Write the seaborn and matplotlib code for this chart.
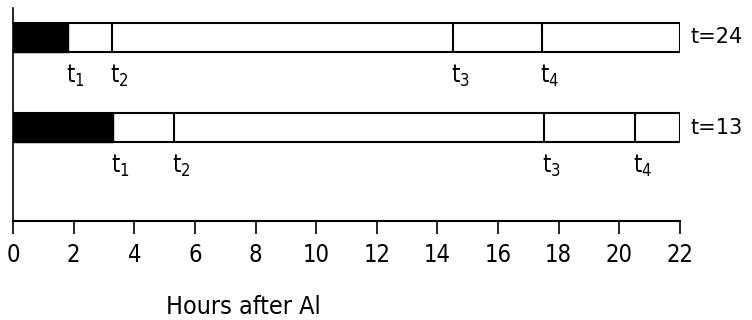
import matplotlib
matplotlib.use("Agg")
import matplotlib.pyplot as plt
import seaborn as sns
import pandas as pd

sns.set_style("ticks")
plt.rcParams["font.family"] = ["DejaVu Sans"]
plt.rcParams["font.stretch"] = "condensed"
plt.rcParams["mathtext.default"] = "regular"
plt.rcParams["text.color"] = "black"
plt.rcParams["xtick.color"] = "black"
plt.rcParams["axes.edgecolor"] = "black"

# data
rows = ["t=24", "t=13"]
t1 = [1.8, 3.3]
t2 = [3.25, 5.3]
t3 = [14.5, 17.5]
t4 = [17.45, 20.5]
total = [22, 22]
xticks = list(range(0, 23, 2))
xlabel = "Hours after Al"

df = pd.DataFrame({"row": rows, "t1": t1, "t2": t2, "t3": t3, "t4": t4, "total": total})

fig = plt.figure(figsize=(7.52, 3.2), dpi=100)
ax = fig.add_axes([13 / 752, 99 / 320, 667 / 752, 213 / 320])

bw = 0.32
sns.barplot(data=df, y="row", x="total", orient="h", color="white",
            edgecolor="black", linewidth=1.5, width=bw, ax=ax, saturation=1)
sns.barplot(data=df, y="row", x="t1", orient="h", color="black",
            edgecolor="black", linewidth=1.0, width=bw, ax=ax, saturation=1)

for i in range(len(rows)):
    for col in ["t2", "t3", "t4"]:
        ax.vlines(df[col][i], i - bw / 2, i + bw / 2, color="black", lw=1.5)
    for k, col in enumerate(["t1", "t2", "t3", "t4"]):
        ax.text(df[col][i] + 0.25, i + 0.42, "t$_{%d}$" % (k + 1),
                fontsize=17, ha="center", va="center")
    ax.text(22.35, i, rows[i], fontsize=15, ha="left", va="center",
            fontstretch="normal")

ax.set_ylim(2.03, -0.326)
ax.set_xlim(0, 22)
ax.set_xticks(xticks)
ax.set_xticklabels([str(v) for v in xticks], fontsize=17)
ax.tick_params(axis="x", length=9, width=1.2, direction="out", pad=7)
ax.set_yticks([])
ax.set_ylabel("")
ax.set_xlabel("")
ax.text(7.6, 2.03 + 0.95, xlabel, fontsize=18, ha="center", va="center")
for s in ["top", "right"]:
    ax.spines[s].set_visible(False)
ax.spines["left"].set_linewidth(1.2)
ax.spines["bottom"].set_linewidth(1.5)
ax.patch.set_alpha(0)

fig.savefig("out.png", dpi=100)
